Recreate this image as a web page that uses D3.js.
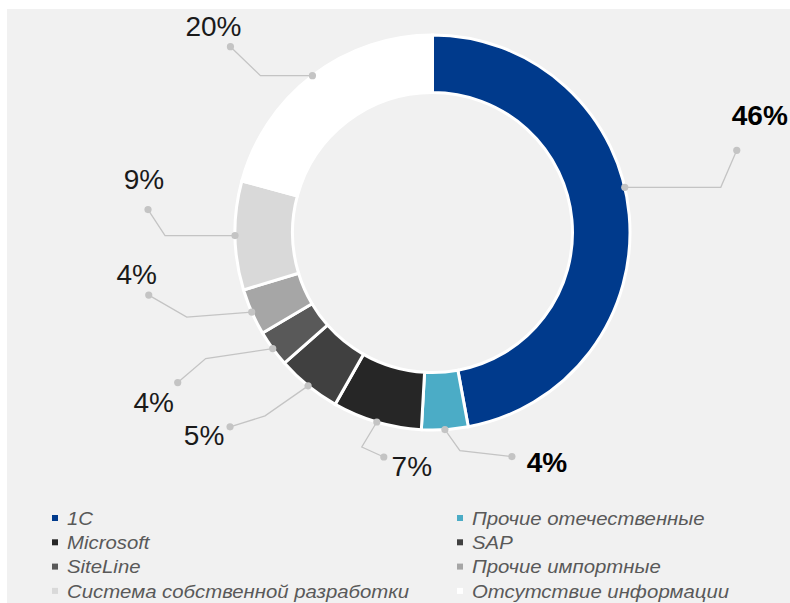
<!DOCTYPE html>
<html>
<head>
<meta charset="utf-8">
<script src="https://cdn.jsdelivr.net/npm/d3@7"></script>
<style>
	html, body { margin: 0; padding: 0; background: #fff; }
	svg { display: block; font-family: "Liberation Sans", Arial, sans-serif; }
</style>
</head>
<body>
<div id="chart"></div>
<script>

// data, clockwise from 12 o'clock
const categories = [ "1C", "Прочие отечественные", "Microsoft", "SAP", "SiteLine",
	"Прочие импортные", "Система собственной разработки", "Отсутствие информации" ];
const shares = [ 47.1, 3.8, 7.3, 5.3, 3.0, 3.8, 8.9, 20.8 ];
const labels = [ "46%", "4%", "7%", "5%", "4%", "4%", "9%", "20%" ];
const colors = [ "#003a8c", "#4bacc6", "#262626", "#404040", "#595959", "#a6a6a6", "#d9d9d9", "#ffffff" ];

// leader lines: elbow / end offsets from the slice anchor, text offset from the end dot
const leaders = [
	{ turn: -8, elbow: [  96,  0 ], end: [ 112, -37 ], text: [  23, -35 ], bold: true },
	{ turn:  0, elbow: [  15, 21 ], end: [  67,  27 ], text: [  35,   6 ], bold: true },
	{ turn:  0, elbow: [ -15, 25 ], end: [   7,  35 ], text: [  28,  10 ] },
	{ turn:  0, elbow: [ -43, 30 ], end: [ -78,  41 ], text: [ -26,   9 ] },
	{ turn:  0, elbow: [ -67, 10 ], end: [ -95,  34 ], text: [ -24,  20 ] },
	{ turn:  0, elbow: [ -65,  5 ], end: [ -103, -17 ], text: [ -12, -21 ] },
	{ turn:  0, elbow: [ -70,  0 ], end: [ -87, -26 ], text: [  -4, -30 ] },
	{ turn:  0, elbow: [ -52,  0 ], end: [ -82, -29 ], text: [ -17, -20 ] }
];

const width = 790, height = 603;
const cx = 432.5, cy = 232.5, R = 197.5, r = 140;

let svg = d3.select( "#chart" ).append( "svg" )
	.attr( "width", width )
	.attr( "height", height );

// panel
svg.append( "rect" )
	.attr( "x", 7 ).attr( "y", 9 )
	.attr( "width", width - 7 ).attr( "height", height - 9 )
	.attr( "fill", "#f1f1f1" );

let g = svg.append( "g" ).attr( "transform", `translate(${cx},${cy})` );

let pie = d3.pie().sort( null ).value( d => d );
let arcs = pie( shares );

let arc = d3.arc().innerRadius( r ).outerRadius( R );

g.selectAll( "path.slice" )
	.data( arcs )
	.join( "path" )
		.attr( "class", "slice" )
		.attr( "d", arc )
		.attr( "fill", ( d, i ) => colors[ i ] )
		.attr( "stroke", "#ffffff" )
		.attr( "stroke-width", 3 )
		.attr( "stroke-linejoin", "miter" );

// labels with leader lines
arcs.forEach( ( a, i ) => {
	let L = leaders[ i ];
	let ang = ( a.startAngle + a.endAngle ) / 2 + L.turn * Math.PI / 180;
	let ax = R * Math.sin( ang ), ay = -R * Math.cos( ang );
	let ex = ax + L.elbow[ 0 ], ey = ay + L.elbow[ 1 ];
	let tx = ax + L.end[ 0 ], ty = ay + L.end[ 1 ];

	g.append( "path" )
		.attr( "d", d3.line()( [ [ ax, ay ], [ ex, ey ], [ tx, ty ] ] ) )
		.attr( "fill", "none" )
		.attr( "stroke", "#c4c4c4" )
		.attr( "stroke-width", 1.3 );

	g.append( "circle" ).attr( "cx", ax ).attr( "cy", ay ).attr( "r", 3.6 ).attr( "fill", "#c4c4c4" );
	g.append( "circle" ).attr( "cx", tx ).attr( "cy", ty ).attr( "r", 3.6 ).attr( "fill", "#c4c4c4" );

	g.append( "text" )
		.attr( "x", tx + L.text[ 0 ] )
		.attr( "y", ty + L.text[ 1 ] )
		.attr( "text-anchor", "middle" )
		.attr( "dominant-baseline", "central" )
		.attr( "font-size", 28 )
		.attr( "font-weight", L.bold ? "bold" : "normal" )
		.attr( "fill", L.bold ? "#000000" : "#1a1a1a" )
		.text( labels[ i ] );
} );

// legend, two columns, filled row by row
let legend = svg.append( "g" );
let colX = [ 52, 457 ], row0 = 518, rowH = 24.3;

let item = legend.selectAll( "g.item" )
	.data( categories )
	.join( "g" )
		.attr( "class", "item" )
		.attr( "transform", ( d, i ) => `translate(${colX[ i % 2 ]},${row0 + Math.floor( i / 2 ) * rowH})` );

item.append( "rect" )
	.attr( "x", 0 ).attr( "y", -3 )
	.attr( "width", 6 ).attr( "height", 6 )
	.attr( "fill", ( d, i ) => colors[ i ] );

item.append( "text" )
	.attr( "transform", "translate(15,0) scale(1.1,1)" )
	.attr( "dominant-baseline", "central" )
	.attr( "font-size", 18.5 )
	.attr( "font-style", "italic" )
	.attr( "fill", "#595959" )
	.text( d => d );

</script>
</body>
</html>
